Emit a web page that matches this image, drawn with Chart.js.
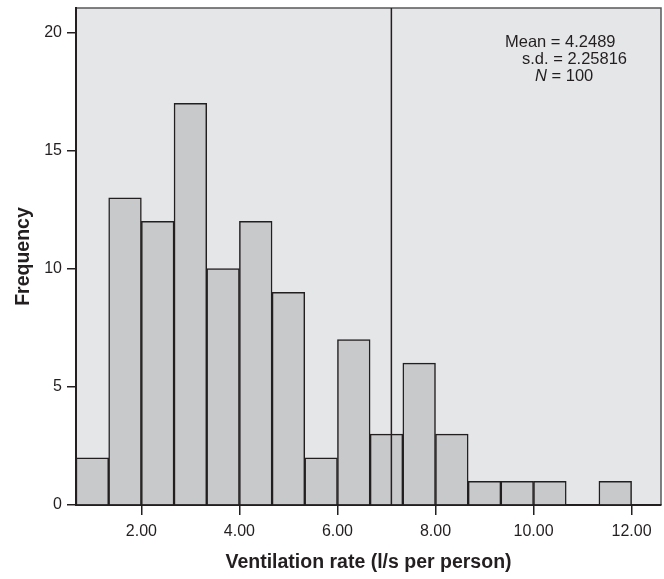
<!DOCTYPE html>
<html>
<head>
<meta charset="utf-8">
<script src="https://cdn.jsdelivr.net/npm/chart.js@4.4.1/dist/chart.umd.min.js"></script>
<style>
  html, body { margin: 0; padding: 0; background: #ffffff; }
  #wrap { width: 664px; height: 579px; }
</style>
</head>
<body>
<div id="wrap"><canvas id="hist_chart"></canvas></div>
<script>
// bin edges (l/s per person), 17 bins of width 2/3
const binEdges = [2/3, 4/3, 6/3, 8/3, 10/3, 12/3, 14/3, 16/3, 18/3, 20/3,
                  22/3, 24/3, 26/3, 28/3, 30/3, 32/3, 34/3, 36/3];
const frequency = [2, 13, 12, 17, 10, 12, 9, 2, 7, 3, 6, 3, 1, 1, 1, 0, 1];
const xTicks = [2, 4, 6, 8, 10, 12];
const yTicks = [0, 5, 10, 15, 20];
const refLine = 7.1;
const statsLines = ["Mean = 4.2489", "s.d. = 2.25816", "N = 100"];

const ink = "#231f20";
const fontFam = "'Liberation Sans', Arial, sans-serif";

const points = frequency.map((f, i) => ({ x: (binEdges[i] + binEdges[i + 1]) / 2, y: f }));

const plotBg = {
  id: "plotBg",
  beforeDraw(chart) {
    const { ctx, chartArea: a } = chart;
    ctx.save();
    ctx.fillStyle = "#e5e6e8";
    ctx.fillRect(a.left, a.top, a.right - a.left, a.bottom - a.top);
    ctx.strokeStyle = "#58585a";
    ctx.lineWidth = 1.5;
    ctx.beginPath();
    ctx.moveTo(a.left, a.top);
    ctx.lineTo(a.right, a.top);
    ctx.lineTo(a.right, a.bottom);
    ctx.stroke();
    ctx.restore();
  }
};

const overlay = {
  id: "overlay",
  afterDatasetsDraw(chart) {
    const { ctx, chartArea: a, scales } = chart;
    const x = scales.x.getPixelForValue(refLine);
    ctx.save();
    ctx.strokeStyle = ink;
    ctx.lineWidth = 1.5;
    ctx.beginPath();
    ctx.moveTo(x, a.top);
    ctx.lineTo(x, a.bottom);
    ctx.stroke();

    ctx.fillStyle = ink;
    ctx.textBaseline = "middle";
    ctx.textAlign = "left";
    ctx.font = "16.5px " + fontFam;
    ctx.fillText(statsLines[0], 505, 42);
    ctx.fillText(statsLines[1], 522, 59);
    ctx.font = "italic 16.5px " + fontFam;
    ctx.fillText("N", 535, 76);
    const nw = ctx.measureText("N").width;
    ctx.font = "16.5px " + fontFam;
    ctx.fillText(statsLines[2].slice(1), 535 + nw, 76);
    ctx.restore();
  }
};

const config = {
  type: "bar",
  data: {
    datasets: [{
      label: "Frequency",
      data: points,
      backgroundColor: "#c8c9cb",
      borderColor: ink,
      borderWidth: 1.5,
      barPercentage: 1,
      categoryPercentage: 1
    }]
  },
  options: {
    responsive: true,
    maintainAspectRatio: false,
    animation: false,
    layout: { padding: { top: 8, right: 3, left: 0, bottom: 0 } },
    plugins: {
      legend: { display: false },
      tooltip: { enabled: false }
    },
    scales: {
      x: {
        type: "linear",
        offset: false,
        min: 2/3,
        max: 12.6,
        afterBuildTicks(s) { s.ticks = xTicks.map(v => ({ value: v })); },
        afterFit(s) { s.height = 74; s.paddingLeft = 0; s.paddingRight = 0; },
        ticks: {
          color: ink,
          padding: 7,
          font: { family: fontFam, size: 16 },
          callback: v => Number(v).toFixed(2)
        },
        grid: { offset: false, drawOnChartArea: false, drawTicks: true, tickLength: 10, tickColor: ink, lineWidth: 1.5 },
        border: { display: true, color: ink, width: 2 },
        title: {
          display: true,
          text: "Ventilation rate (l/s per person)",
          color: ink,
          font: { family: fontFam, size: 19.5, weight: "bold" },
          padding: { top: 0, bottom: 5 }
        }
      },
      y: {
        min: 0,
        max: 21.03,
        afterBuildTicks(s) { s.ticks = yTicks.map(v => ({ value: v })); },
        afterFit(s) { s.width = 76; s.paddingTop = 0; s.paddingBottom = 0; },
        ticks: {
          color: ink,
          padding: 5,
          font: { family: fontFam, size: 16 }
        },
        grid: { drawOnChartArea: false, drawTicks: true, tickLength: 9, tickColor: ink, lineWidth: 1.5 },
        border: { display: true, color: ink, width: 2 },
        title: {
          display: true,
          text: "Frequency",
          color: ink,
          font: { family: fontFam, size: 19.5, weight: "bold" },
          padding: { top: 12, bottom: 0 }
        }
      }
    }
  },
  plugins: [plotBg, overlay]
};

const hist_chart = new Chart(document.getElementById("hist_chart"), config);
</script>
</body>
</html>
